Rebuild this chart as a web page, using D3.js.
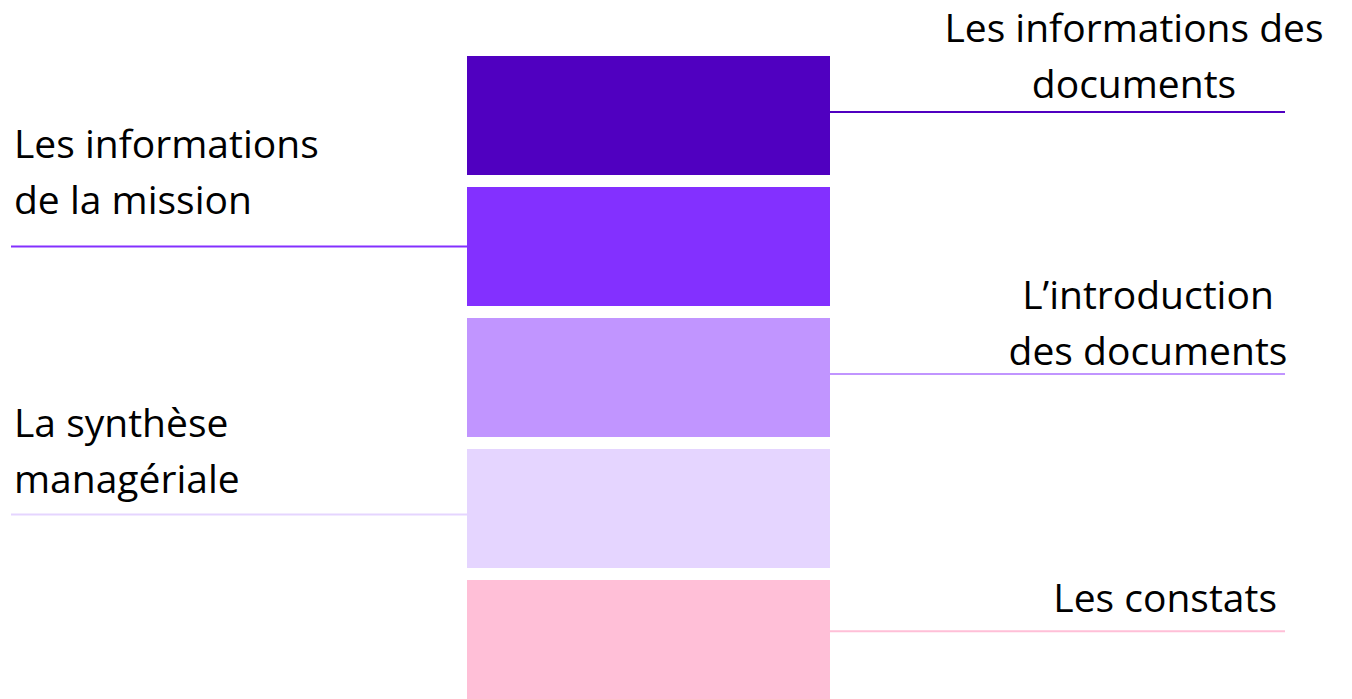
<!DOCTYPE html>
<html>
<head>
<meta charset="utf-8">
<script src="https://cdn.jsdelivr.net/npm/d3@7"></script>
<style>
  html, body { margin: 0; padding: 0; background: #fff; }
  svg { display: block; }
  text { font-family: "Open Sans", Lato, sans-serif; fill: #000; }
</style>
</head>
<body>
<svg id="chart" width="1352" height="699"></svg>
<script>
// ---- data ----
const categories = [
  "Les informations des documents",
  "Les informations de la mission",
  "L’introduction des documents",
  "La synthèse managériale",
  "Les constats"
];
const labelLines = [
  ["Les informations des", "documents"],
  ["Les informations", "de la mission"],
  ["L’introduction", "des documents"],
  ["La synthèse", "managériale"],
  ["Les constats"]
];
const sides = ["right", "left", "right", "left", "right"];
const values = [1, 1, 1, 1, 1];
const colors = ["#5000C0", "#8330FF", "#C195FF", "#E5D5FF", "#FFBFD7"];

// ---- layout (not data) ----
const lineFrac = [0.47, 0.5, 0.47, 0.55, 0.43];     // leader line position within band
const lastBaselineAbove = [14, 33, 9, 21, 19];      // last text baseline offset above leader line
const lineHeight = 56;
const fontSize = 39;

const svg = d3.select("#chart");

const y = d3.scaleBand().domain(categories).range([56, 699]).paddingInner(0.0916);
const x = d3.scaleLinear().domain([0, 1]).range([467, 830]);
const leftLine = [11, 467];
const rightLine = [830, 1285];

// bars
svg.selectAll("rect.bar").data(categories).join("rect")
  .attr("class", "bar")
  .attr("x", x(0))
  .attr("y", d => y(d))
  .attr("width", (d, i) => x(values[i]) - x(0))
  .attr("height", y.bandwidth())
  .attr("fill", (d, i) => colors[i]);

// leader lines
svg.selectAll("line.lead").data(categories).join("line")
  .attr("class", "lead")
  .attr("x1", (d, i) => sides[i] === "left" ? leftLine[0] : rightLine[0])
  .attr("x2", (d, i) => sides[i] === "left" ? leftLine[1] : rightLine[1])
  .attr("y1", (d, i) => y(d) + y.bandwidth() * lineFrac[i])
  .attr("y2", (d, i) => y(d) + y.bandwidth() * lineFrac[i])
  .attr("stroke", (d, i) => colors[i])
  .attr("stroke-width", 2);

// labels
const anchors = ["middle", "start", "middle", "start", "end"];
const anchorX = [1134, 14, 1148, 14, 1277];
categories.forEach((c, i) => {
  const ly = y(c) + y.bandwidth() * lineFrac[i];
  const lines = labelLines[i];
  const t = svg.append("text")
    .attr("text-anchor", anchors[i])
    .attr("font-size", fontSize);
  lines.forEach((ln, k) => {
    t.append("tspan")
      .attr("x", anchorX[i])
      .attr("y", ly - lastBaselineAbove[i] - (lines.length - 1 - k) * lineHeight)
      .text(ln);
  });
});
</script>
</body>
</html>
